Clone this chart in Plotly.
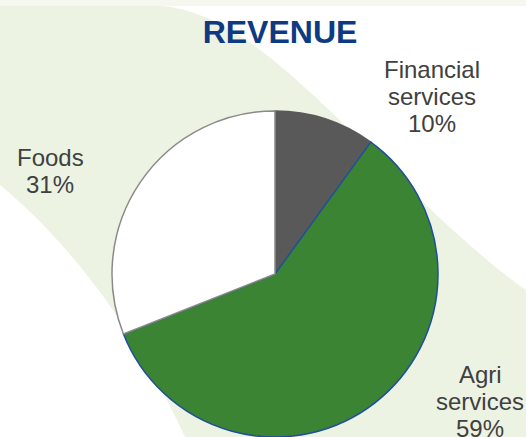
import plotly.graph_objects as go

# datos del gráfico
labels = ["Financial<br>services", "Agri<br>services", "Foods"]
values = [10, 59, 31]
colores = ["#595959", "#3a8434", "#ffffff"]
bordes = ["#595959", "#1f4e9c", "#8a8a8a"]

W, H = 526, 437

def px2paper(x, y):
    return x / W, 1 - y / H

def path_paper(cmds):
    # convierte una ruta en pixeles a coordenadas paper
    out = []
    for c in cmds:
        if isinstance(c, str):
            out.append(c)
        else:
            px, py = px2paper(*c)
            out.append(f"{px:.4f},{py:.4f}")
    return " ".join(out)

# franja verde de fondo
franja = path_paper(["M", (0, 6), "L", (160, 6),
                     "C", (230, 10), (300, 80), (380, 160),
                     "C", (440, 220), (490, 265), (526, 290),
                     "L", (526, 437), "L", (185, 437),
                     "C", (150, 360), (90, 260), (0, 185), "Z"])

fig = go.Figure(go.Pie(
    labels=labels, values=values, sort=False, direction="clockwise", rotation=0,
    marker=dict(colors=colores, line=dict(color=bordes, width=1.5)),
    textinfo="none", hoverinfo="label+percent",
    domain=dict(x=[111 / W, 439 / W], y=[0, 1 - 111 / H]),
    showlegend=False,
))

# etiquetas de cada porción, una anotación por línea
total = sum(values)
pos = [(432, 79), (480, 384), (50, 167)]  # centro x, línea base de la primera línea
for lab, v, (x, y0) in zip(labels, values, pos):
    lineas = lab.split("<br>") + [f"{v / total * 100:.0f}%"]
    for i, t in enumerate(lineas):
        ax, ay = px2paper(x, y0 + 27 * i)
        fig.add_annotation(text=t, x=ax, y=ay, xref="paper", yref="paper", showarrow=False,
                           xanchor="center", yanchor="bottom", yshift=-6,
                           font=dict(family="Liberation Sans, Arial", size=24, color="#404040"))

fig.update_layout(
    width=W, height=H, margin=dict(l=0, r=0, t=0, b=0),
    paper_bgcolor="white", plot_bgcolor="white",
    title=dict(text="<b>REVENUE</b>", x=280 / W, xanchor="center", y=1 - 32 / H, yanchor="middle",
               font=dict(family="Liberation Sans, Arial", size=32, color="#0d3a82")),
    shapes=[
        dict(type="rect", xref="paper", yref="paper", x0=0, x1=1, y0=1 - 6 / H, y1=1,
             fillcolor="#f6f8f0", line=dict(width=0), layer="below"),
        dict(type="path", xref="paper", yref="paper", path=franja,
             fillcolor="#edf3e3", line=dict(width=0), layer="below"),
    ],
)

fig.write_html("out.html", config={"displayModeBar": False},
               post_script="document.body.style.margin='0';")
